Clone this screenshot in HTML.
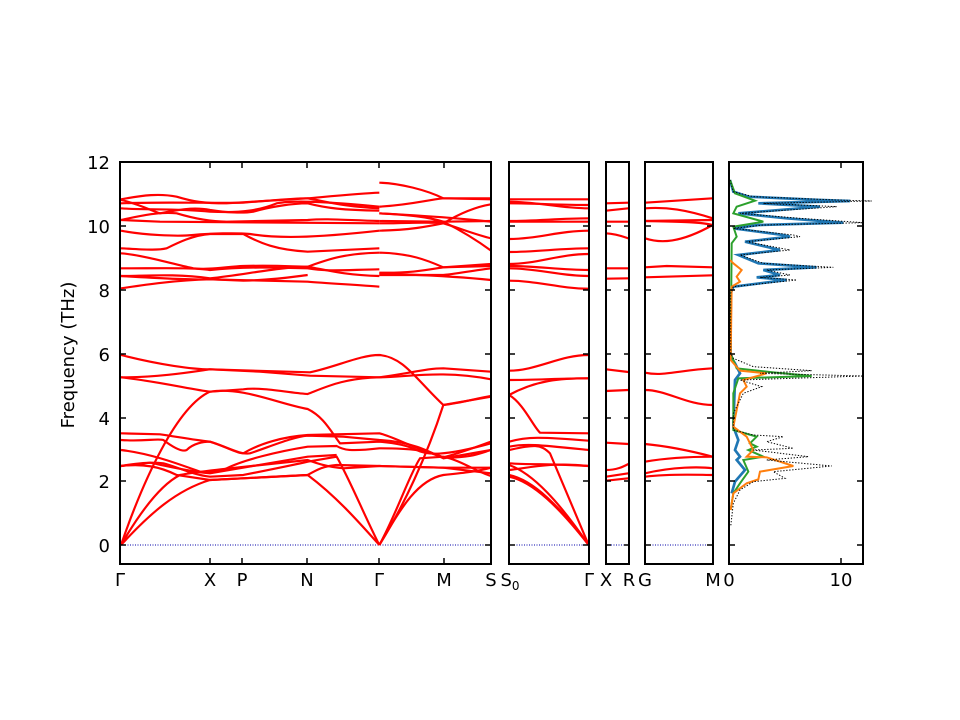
<!DOCTYPE html>
<html><head><meta charset="utf-8"><style>
html,body{margin:0;padding:0;background:#fff;}
svg{display:block;font-family:"DejaVu Sans","Liberation Sans",sans-serif;}
</style></head><body>
<svg width="960" height="720" viewBox="0 0 960 720" xmlns="http://www.w3.org/2000/svg">
<rect width="960" height="720" fill="#fff"/>
<g stroke="#0000aa" stroke-width="1" stroke-dasharray="1,1.5">
<line x1="120" y1="545" x2="491" y2="545"/><line x1="509" y1="545" x2="589" y2="545"/>
<line x1="606" y1="545" x2="629" y2="545"/><line x1="645" y1="545" x2="713" y2="545"/>
</g>
<g transform="translate(110,340) scale(0.33333)" fill="none" stroke="#ff0000" stroke-width="6.5">
<path d="M33,45 C150,75 250,88 300,88 L600,97 C680,80 750,45 808,45 C880,50 920,120 1000,195 L1143,170"/>
<path d="M33,112 C150,112 250,95 300,88 L450,95 600,107 808,112 C900,100 950,85 1000,85 L1143,95"/>
<path d="M33,112 C150,125 250,150 300,155 L400,148 C450,140 550,160 593,162 C650,140 700,115 808,112 C900,110 1000,90 1143,118"/>
<path d="M33,615 C100,420 200,200 300,155 C400,140 500,190 593,207 C640,230 660,270 690,310 L808,305 C870,310 900,320 920,330 C950,345 1000,350 1143,310"/>
<path d="M808,615 C880,500 950,350 1000,195 C1050,190 1100,175 1143,168"/>
<path d="M33,280 L150,283 C200,290 250,300 300,305 C350,320 380,340 400,340 C450,310 520,290 593,285 L808,280 C850,290 900,320 1000,352 C1050,340 1100,320 1143,305"/>
<path d="M33,300 C100,305 140,295 160,300 C200,330 220,335 230,330 C250,310 280,305 300,305 C350,320 390,345 420,340 C480,320 550,290 593,287 L700,290 L808,300 C900,305 950,330 1000,355 L1143,330"/>
<path d="M33,330 C120,340 200,370 270,395 C300,400 330,395 350,385 C400,360 500,335 593,320 L680,318 C700,330 720,335 808,325 C900,325 950,330 1000,352 C1080,355 1110,340 1143,330"/>
<path d="M33,378 C80,370 120,365 160,370 C200,380 250,405 300,410 L400,405 C450,395 550,375 593,365 L680,350 C720,420 760,520 808,615"/>
<path d="M33,378 C100,370 150,380 200,405 L300,420 L593,405 C620,390 640,378 680,375 L808,378 L1000,383 L1143,383"/>
<path d="M33,615 C100,500 160,430 210,405 C260,395 300,392 360,385 L593,360 C620,370 650,380 700,385 L808,378 L1000,383 L1143,400"/>
<path d="M33,615 C120,520 200,450 300,420 L593,405 C680,470 750,550 808,615"/>
<path d="M808,615 C870,510 920,420 1000,405 C1050,400 1100,395 1143,383"/>
<path d="M808,615 C860,520 900,400 930,355 L1000,350 C1050,360 1100,395 1143,408"/>
<path d="M33,378 L120,368 C180,380 240,395 300,400 L593,350 L680,345"/>
</g>
<g transform="translate(110,160) scale(0.33333)" fill="none" stroke="#ff0000" stroke-width="6.5">
<path d="M33,118 C100,105 150,100 200,110 C250,125 280,130 350,130 L593,115 C650,110 750,100 808,98"/>
<path d="M33,130 C150,125 300,130 400,128 C500,120 550,115 593,115 C650,125 700,140 808,145"/>
<path d="M33,145 C100,150 200,145 300,155 C400,160 450,150 500,130 C550,120 650,125 808,140"/>
<path d="M33,120 C80,130 120,150 150,160 C200,150 250,140 300,150 C350,158 400,160 430,155 C480,140 550,130 593,130 C650,145 700,150 808,152"/>
<path d="M33,180 C100,165 150,155 200,160 C250,175 300,185 350,185 L593,180 C650,175 700,180 808,183"/>
<path d="M33,180 L150,185 L808,190"/>
<path d="M33,212 C100,225 200,230 250,225 C300,220 380,218 420,222 C500,235 600,235 808,212"/>
<path d="M33,265 C100,268 140,272 170,265 C200,250 250,225 300,222 L400,222 C450,250 500,270 593,275 L808,265"/>
<path d="M33,280 C100,285 200,315 250,325 C300,330 350,320 400,318 C500,315 550,320 593,320 C650,300 700,280 808,278"/>
<path d="M33,325 C150,325 250,322 300,330 C400,320 500,322 593,325 C650,335 700,330 808,328"/>
<path d="M33,348 C100,348 200,340 300,355 C400,345 500,322 593,320 C650,330 700,345 808,348"/>
<path d="M33,348 C150,355 250,360 300,358 L593,365 C650,370 750,375 808,380"/>
<path d="M33,385 C100,375 200,360 300,358 L400,362 C500,360 550,350 593,345"/>
<path d="M808,68 C870,70 950,90 1000,115 L1143,118"/>
<path d="M808,140 C900,135 950,120 1000,115 L1143,115"/>
<path d="M808,160 C900,165 950,170 1000,185 C1050,210 1100,240 1143,272"/>
<path d="M808,160 C900,165 1000,170 1143,185"/>
<path d="M808,183 L1000,185 L1143,183"/>
<path d="M808,212 C900,210 950,200 1000,190 C1050,160 1100,140 1143,133"/>
<path d="M808,190 C900,190 950,185 1000,190 C1050,205 1100,225 1143,235"/>
<path d="M808,278 C900,280 950,300 1000,322 L1143,312"/>
<path d="M808,338 C900,340 950,330 1000,322 L1143,318"/>
<path d="M808,345 L1000,345 C1050,340 1100,330 1143,325"/>
<path d="M808,340 C900,345 1000,345 1143,360"/>
</g>
<g transform="translate(500,160) scale(0.33333)" fill="none" stroke-width="6.5">
<g stroke="#ff0000">
<path d="M27,118 C110,118 180,118 266,118"/><path d="M27,130 C110,130 180,135 266,135"/>
<path d="M27,125 C110,125 180,145 266,145"/><path d="M27,183 C110,183 180,175 266,175"/>
<path d="M27,185 C110,185 180,185 266,185"/><path d="M27,237 C110,237 180,212 266,212"/>
<path d="M27,276 C110,276 180,265 266,265"/><path d="M27,312 C110,312 180,282 266,282"/>
<path d="M27,318 C110,318 180,330 266,330"/><path d="M27,325 C110,325 180,348 266,348"/>
<path d="M27,362 C110,362 180,386 266,386"/>
<path d="M27,632 C110,632 180,585 266,585"/><path d="M27,660 C110,660 180,655 266,655"/>
<path d="M27,705 C110,660 180,655 266,655"/>
<path d="M27,705 C70,730 100,800 120,818 L266,820"/>
<path d="M27,845 C80,830 120,830 266,842"/><path d="M27,860 C80,850 120,855 266,870"/>
<path d="M27,870 C100,855 120,850 150,880 L266,1155"/>
<path d="M27,910 C100,915 150,910 266,918"/><path d="M27,930 C80,925 150,905 266,918"/>
<path d="M27,945 C100,960 180,1040 266,1155"/><path d="M27,950 C100,965 180,1045 266,1155"/>
<path d="M27,915 C100,940 180,1030 266,1155"/>
<path d="M318,130 L385,128"/><path d="M318,152 L385,145"/><path d="M318,185 L385,185"/>
<path d="M318,220 C350,222 370,230 385,235"/><path d="M318,325 L385,325"/><path d="M318,356 L385,355"/>
<path d="M318,628 L385,636"/><path d="M318,693 L385,690"/><path d="M318,848 L385,852"/>
<path d="M318,930 C350,930 370,920 385,912"/><path d="M318,950 L385,940"/><path d="M318,962 L385,955"/>
<path d="M435,128 L638,115"/><path d="M435,145 C500,140 560,150 638,175"/>
<path d="M435,183 L638,180"/><path d="M435,183 C520,185 600,185 638,195"/>
<path d="M435,235 C480,250 540,250 638,195"/>
<path d="M435,322 L500,318 L638,322"/><path d="M435,352 L638,346"/>
<path d="M435,638 C490,650 540,630 638,625"/><path d="M435,690 C500,690 560,735 638,735"/>
<path d="M435,852 C520,860 600,880 638,890"/><path d="M435,905 C520,890 600,890 638,890"/>
<path d="M435,940 C520,920 600,920 638,925"/><path d="M435,950 C520,940 600,945 638,945"/>
</g>
<polyline stroke="#1f77b4" stroke-width="8" points="690,60 700,95 745,110 960,120 1050,123 775,130 960,140 715,160 860,175 1030,188 775,195 700,205 850,225 870,230 735,245 840,270 715,285 775,310 950,322 790,330 840,345 770,352 860,360 700,380 692,400 692,590 705,610 720,640 705,660 700,800 715,840 705,870 720,890 710,900 735,930 705,965 695,1000"/>
<polyline stroke="#2ca02c" stroke-width="6" points="690,60 705,100 765,122 710,140 700,160 790,185 700,200 710,230 695,250 692,580 710,625 820,637 935,648 715,655 700,700 700,810 770,830 750,850 770,860 745,870 790,890 730,900 745,935 720,970 700,1000 692,1050"/>
<polyline stroke="#ff7f0e" stroke-width="6" points="690,300 700,310 725,330 710,350 720,365 695,380 692,600 720,632 800,640 730,660 740,680 720,700 700,800 740,830 760,870 740,890 800,892 880,918 780,935 775,958 740,970 700,1000 692,1050"/>
<polyline stroke="#000" stroke-width="3" stroke-dasharray="4,5" points="690,60 700,95 760,110 1010,120 1115,123 790,130 1010,140 720,160 900,175 1090,188 790,195 700,205 880,225 900,230 740,245 870,270 720,285 790,310 1000,322 800,330 870,345 780,352 890,360 700,380 692,400 692,580 700,595 760,620 935,632 780,640 1090,648 720,660 785,680 730,700 700,760 700,810 760,825 850,830 800,845 880,865 760,870 925,890 800,900 995,918 820,935 855,955 760,965 720,990 700,1030 692,1100"/>
</g>
<g fill="none" stroke="#000" stroke-width="2">
<rect x="120" y="162" width="371" height="402"/><rect x="509" y="162" width="80" height="402"/>
<rect x="606" y="162" width="23" height="402"/><rect x="645" y="162" width="68" height="402"/>
<rect x="729" y="162" width="134" height="402"/>
</g>
<g stroke="#000" stroke-width="1.5">
<path d="M120,545h6M120,481h6M120,418h6M120,354h6M120,290h6M120,226h6M120,162h6
M491,545h-6M491,481h-6M491,418h-6M491,354h-6M491,290h-6M491,226h-6M491,162h-6
M509,545h6M509,481h6M509,418h6M509,354h6M509,290h6M509,226h6
M589,545h-6M589,481h-6M589,418h-6M589,354h-6M589,290h-6M589,226h-6
M606,545h5M606,481h5M606,418h5M606,354h5M606,290h5M606,226h5
M629,545h-5M629,481h-5M629,418h-5M629,354h-5M629,290h-5M629,226h-5
M645,545h6M645,481h6M645,418h6M645,354h6M645,290h6M645,226h6
M713,545h-6M713,481h-6M713,418h-6M713,354h-6M713,290h-6M713,226h-6
M729,545h6M729,481h6M729,418h6M729,354h6M729,290h6M729,226h6
M863,545h-6M863,481h-6M863,418h-6M863,354h-6M863,290h-6M863,226h-6
M210,162v6M242,162v6M307,162v6M379,162v6M444,162v6M210,564v-6M242,564v-6M307,564v-6M379,564v-6M444,564v-6
M841,162v6M841,564v-6"/>
</g>
<g font-size="18" fill="#000" text-anchor="end">
<text x="110" y="552">0</text><text x="110" y="488">2</text><text x="110" y="425">4</text>
<text x="110" y="361">6</text><text x="110" y="297">8</text><text x="110" y="233">10</text><text x="110" y="169">12</text>
</g>
<g font-size="18" fill="#000" text-anchor="middle">
<text x="120" y="586">Γ</text><text x="210" y="586">X</text><text x="242" y="586">P</text>
<text x="307" y="586">N</text><text x="379" y="586">Γ</text><text x="444" y="586">M</text>
<text x="491" y="586">S</text><text x="510" y="586">S<tspan font-size="12" dy="4">0</tspan></text>
<text x="589" y="586">Γ</text><text x="606" y="586">X</text><text x="629" y="586">R</text>
<text x="645" y="586">G</text><text x="713" y="586">M</text>
<text x="729" y="586">0</text><text x="841" y="586">10</text>
<text transform="translate(74,355) rotate(-90)">Frequency (THz)</text>
</g>
</svg>
</body></html>
